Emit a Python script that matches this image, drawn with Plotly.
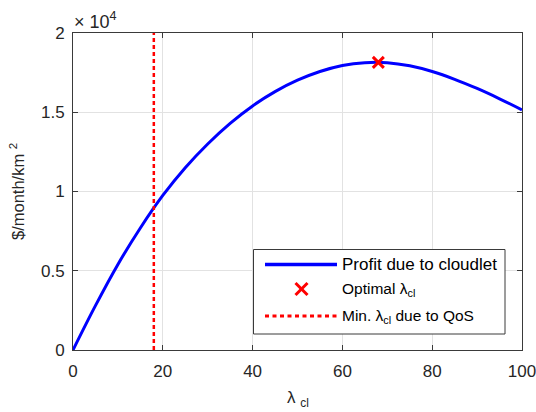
import plotly.graph_objects as go

# Cloudlet arrival rate (lambda_cl) and the resulting profit ($/month/km^2)
lam = [0, 5, 10, 15, 20, 25, 30, 35, 40, 45, 50,
       55, 60, 65, 70, 75, 80, 85, 90, 95, 100]
profit = [0, 2800, 5400, 7700, 9750, 11500, 13000, 14300, 15400, 16300, 17020,
          17570, 17950, 18130, 18130, 17930, 17570, 17080, 16500, 15850, 15150]

opt_lam = [68]
opt_profit = [18150]

min_lam_qos = 18

x_ticks = [0, 20, 40, 60, 80, 100]
y_ticks = [0, 5000, 10000, 15000, 20000]
y_tick_text = ["0", "0.5", "1", "1.5", "2"]

FONT = "Liberation Sans, Arial, Helvetica, sans-serif"
AX = "#3a3a3a"
GRID = "#e2e2e2"
W, H = 536, 412
ML, MR, MT, MB = 73, 14, 33, 62
PW, PH = W - ML - MR, H - MT - MB


def px(x):
    return (x - ML) / PW


def py(y):
    return (H - MB - y) / PH


fig = go.Figure()

fig.add_trace(go.Scatter(
    x=lam, y=profit, mode="lines", line=dict(color="#0000ff", width=3, shape="spline"),
    showlegend=False, hoverinfo="skip"))

fig.add_trace(go.Scatter(
    x=[min_lam_qos, min_lam_qos], y=[y_ticks[0], y_ticks[-1]], mode="lines",
    line=dict(color="#ff0000", width=2.5, dash="4px,3px"),
    showlegend=False, hoverinfo="skip"))

fig.add_trace(go.Scatter(
    x=opt_lam, y=opt_profit, mode="markers",
    marker=dict(symbol="x-thin", size=11, color="#ff0000",
                line=dict(color="#ff0000", width=3)),
    showlegend=False, hoverinfo="skip"))

axis_common = dict(
    showline=True, linecolor=AX, linewidth=1, mirror="ticks",
    ticks="inside", ticklen=5, tickcolor=AX, tickwidth=1,
    showgrid=True, gridcolor=GRID, gridwidth=1, zeroline=False,
    automargin=False, ticklabeloverflow="allow",
    tickfont=dict(family=FONT, size=17, color="#262626"),
)

fig.update_xaxes(range=[0, 100], tickvals=x_ticks, ticklabelstandoff=6, **axis_common)
fig.update_yaxes(range=[0, 20000], tickvals=y_ticks, ticktext=y_tick_text,
                 ticklabelstandoff=4, **axis_common)

shapes = []
annotations = []

# legend box
lx0, lx1, ly0, ly1 = 253.5, 505, 249.5, 334
shapes.append(dict(type="rect", xref="paper", yref="paper",
                   x0=px(lx0), x1=px(lx1), y0=py(ly1), y1=py(ly0),
                   line=dict(color=AX, width=1), fillcolor="white", layer="above"))

# legend samples
sx0, sx1 = 265, 337
rows = [264.5, 289, 316]
shapes.append(dict(type="line", xref="paper", yref="paper",
                   x0=px(sx0), x1=px(sx1), y0=py(rows[0]), y1=py(rows[0]),
                   line=dict(color="#0000ff", width=3.5), layer="above"))
cx, cy, r = 301.5, rows[1], 6
for a, b in [(-1, -1), (-1, 1)]:
    shapes.append(dict(type="line", xref="paper", yref="paper",
                       x0=px(cx + a * r), x1=px(cx - a * r),
                       y0=py(cy + b * r), y1=py(cy - b * r),
                       line=dict(color="#ff0000", width=3), layer="above"))
shapes.append(dict(type="line", xref="paper", yref="paper",
                   x0=px(sx0), x1=px(sx1), y0=py(rows[2]), y1=py(rows[2]),
                   line=dict(color="#ff0000", width=3, dash="4px,3.5px"), layer="above"))

legend_text = ["Profit due to cloudlet",
               "Optimal λ<sub>cl</sub>",
               "Min. λ<sub>cl</sub> due to QoS"]
legend_size = [17, 15.5, 15.5]
for txt, yy, fs in zip(legend_text, rows, legend_size):
    annotations.append(dict(text=txt, xref="paper", yref="paper", x=px(340), y=py(yy),
                            xanchor="left", yanchor="middle", showarrow=False,
                            font=dict(family=FONT, size=fs, color="#000000")))

# exponent label above the y axis
annotations.append(dict(text="× 10<sup>4</sup>", xref="paper", yref="paper",
                        x=px(72), y=py(20), xanchor="left", yanchor="middle",
                        showarrow=False, font=dict(family=FONT, size=18, color="#262626")))

# axis titles
annotations.append(dict(text="λ <sub>cl</sub>", xref="paper", yref="paper",
                        x=px(297.5), y=py(399), xanchor="center", yanchor="middle",
                        showarrow=False, font=dict(family=FONT, size=17, color="#262626")))
annotations.append(dict(text="$/month/km <sup>2</sup>", xref="paper", yref="paper",
                        x=px(17), y=py(192), xanchor="center", yanchor="middle",
                        textangle=-90, showarrow=False,
                        font=dict(family=FONT, size=16.5, color="#262626")))

fig.update_layout(
    width=W, height=H,
    margin=dict(l=ML, r=MR, t=MT, b=MB),
    paper_bgcolor="white", plot_bgcolor="white",
    shapes=shapes, annotations=annotations,
    showlegend=False,
)

fig.write_html("out.html")
